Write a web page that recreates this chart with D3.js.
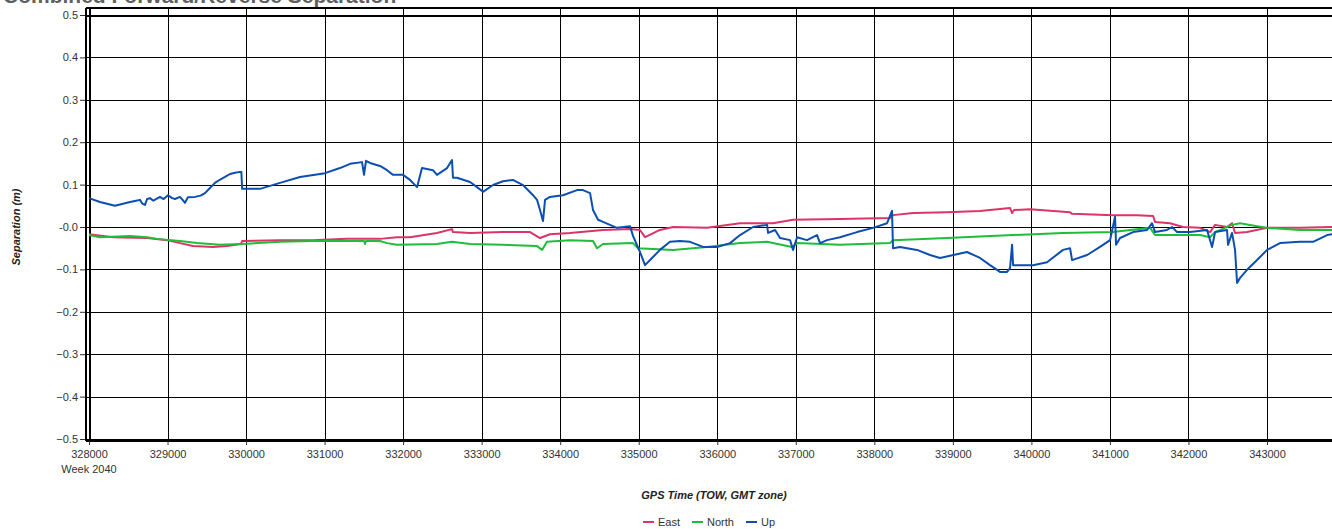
<!DOCTYPE html>
<html><head><meta charset="utf-8">
<script src="https://cdn.jsdelivr.net/npm/d3@7"></script>
<style>
html,body{margin:0;padding:0;background:#fff;overflow:hidden}
text{font-family:"Liberation Sans",Arial,sans-serif}
</style></head>
<body><svg id="c" width="1332" height="529"></svg>
<script>
const title = "Combined Forward/Reverse Separation";
const xTitle = "GPS Time (TOW, GMT zone)";
const yTitle = "Separation (m)";
const weekLabel = "Week 2040";
const xTicks = [328000,329000,330000,331000,332000,333000,334000,335000,336000,337000,338000,339000,340000,341000,342000,343000];
const yTicks = [0.5,0.4,0.3,0.2,0.1,0.0,-0.1,-0.2,-0.3,-0.4,-0.5];
const seriesNames = ["East","North","Up"];
const seriesColors = ["#dc3467","#1fbd3a","#0c4fb0"];

// [TOW, separation m]
const eastData = [[328000,-0.017],[328306,-0.024],[328739,-0.026],[328993,-0.031],[329159,-0.038],[329324,-0.045],[329579,-0.047],[329757,-0.045],[329936,-0.040],[329950,-0.033],[330432,-0.031],[330852,-0.031],[331285,-0.028],[331706,-0.028],[331922,-0.024],[332088,-0.024],[332431,-0.014],[332622,-0.005],[332635,-0.012],[332852,-0.014],[333272,-0.012],[333616,-0.012],[333743,-0.026],[333870,-0.017],[334125,-0.014],[334545,-0.007],[334889,-0.005],[335016,-0.007],[335080,-0.024],[335271,-0.007],[335437,0.000],[335870,-0.002],[336290,0.009],[336710,0.009],[336965,0.017],[337563,0.019],[338200,0.021],[338238,0.028],[338493,0.033],[338926,0.035],[339346,0.038],[339728,0.045],[339754,0.033],[339780,0.040],[339983,0.042],[340492,0.035],[340518,0.031],[341040,0.028],[341346,0.028],[341550,0.026],[341574,0.012],[341765,0.009],[341931,0.000],[342147,-0.002],[342275,-0.012],[342339,0.005],[342491,0.000],[342555,0.009],[342593,-0.014],[342746,-0.012],[343001,-0.002],[343421,-0.002],[343829,0.000]];

const northData = [[328000,-0.019],[328140,-0.024],[328522,-0.021],[328739,-0.024],[328866,-0.028],[329159,-0.033],[329375,-0.038],[329668,-0.042],[329936,-0.040],[330432,-0.035],[330852,-0.033],[331502,-0.033],[331515,-0.040],[331527,-0.033],[331706,-0.033],[331795,-0.038],[331922,-0.042],[332431,-0.040],[332622,-0.035],[332852,-0.040],[333272,-0.042],[333705,-0.045],[333769,-0.054],[333832,-0.035],[334125,-0.031],[334418,-0.033],[334469,-0.050],[334545,-0.040],[334927,-0.038],[334991,-0.050],[335437,-0.054],[335870,-0.047],[336290,-0.038],[336634,-0.035],[336952,-0.047],[337016,-0.038],[337563,-0.042],[338200,-0.038],[338238,-0.031],[338926,-0.026],[339767,-0.019],[340403,-0.014],[341040,-0.012],[341511,-0.002],[341574,-0.019],[342147,-0.019],[342275,-0.024],[342339,-0.012],[342555,0.005],[342657,0.009],[342873,0.002],[343001,-0.002],[343421,-0.007],[343829,-0.007]];

const upData = [[328000,0.068],[328140,0.059],[328331,0.050],[328522,0.059],[328600,0.062],[328649,0.064],[328680,0.055],[328713,0.052],[328740,0.066],[328777,0.068],[328820,0.062],[328904,0.071],[328950,0.066],[329006,0.075],[329060,0.068],[329095,0.066],[329159,0.071],[329200,0.062],[329222,0.057],[329260,0.070],[329350,0.071],[329420,0.074],[329477,0.080],[329540,0.092],[329604,0.104],[329670,0.112],[329732,0.118],[329796,0.125],[329860,0.128],[329923,0.130],[329940,0.130],[329950,0.090],[330178,0.090],[330432,0.104],[330687,0.118],[331005,0.127],[331196,0.139],[331324,0.149],[331477,0.153],[331502,0.123],[331527,0.156],[331578,0.151],[331706,0.144],[331795,0.134],[331871,0.123],[331998,0.123],[332088,0.111],[332177,0.094],[332240,0.139],[332380,0.134],[332431,0.123],[332559,0.139],[332622,0.158],[332635,0.116],[332686,0.116],[332852,0.106],[332941,0.094],[333017,0.083],[333145,0.099],[333272,0.108],[333399,0.111],[333526,0.099],[333654,0.075],[333705,0.064],[333743,0.040],[333781,0.014],[333807,0.064],[333870,0.071],[333960,0.073],[334036,0.075],[334214,0.087],[334290,0.087],[334380,0.080],[334418,0.040],[334482,0.017],[334545,0.012],[334634,0.005],[334724,-0.002],[334889,0.002],[334927,-0.021],[335016,-0.059],[335080,-0.090],[335169,-0.073],[335271,-0.054],[335398,-0.035],[335526,-0.033],[335653,-0.035],[335819,-0.047],[335997,-0.047],[336163,-0.038],[336290,-0.019],[336456,0.000],[336634,0.005],[336647,-0.014],[336736,-0.007],[336799,-0.026],[336927,-0.031],[336965,-0.054],[337016,-0.024],[337143,-0.031],[337270,-0.019],[337309,-0.038],[337398,-0.031],[337563,-0.024],[337780,-0.012],[337984,-0.002],[338162,0.009],[338225,0.038],[338238,-0.050],[338327,-0.047],[338416,-0.050],[338544,-0.054],[338709,-0.066],[338837,-0.073],[338964,-0.068],[339180,-0.059],[339346,-0.073],[339473,-0.090],[339600,-0.106],[339690,-0.106],[339728,-0.097],[339754,-0.042],[339767,-0.090],[339855,-0.090],[340021,-0.090],[340199,-0.083],[340403,-0.054],[340492,-0.050],[340518,-0.078],[340709,-0.066],[340874,-0.047],[341002,-0.031],[341065,0.024],[341078,-0.042],[341129,-0.026],[341294,-0.012],[341473,-0.007],[341536,0.009],[341574,-0.012],[341727,-0.007],[341791,0.000],[341855,-0.012],[342020,-0.012],[342237,-0.007],[342300,-0.047],[342339,-0.012],[342491,-0.007],[342504,-0.042],[342555,-0.014],[342593,-0.054],[342619,-0.132],[342657,-0.120],[342746,-0.101],[342873,-0.078],[343001,-0.054],[343166,-0.038],[343421,-0.035],[343587,-0.035],[343765,-0.019],[343829,-0.017]];

const allData = [eastData, northData, upData];

(function draw() {
const svg = d3.select("#c");
const pL = 86, pT = 8, pB = 440, pR = 1345;
const x = d3.scaleLinear().domain([328000, 343000]).range([89, 1267]);
const y = d3.scaleLinear().domain([-0.5, 0.5]).range([439, 15]);

svg.append("text").attr("x", 3).attr("y", 3).attr("font-size", 21).attr("font-weight", "bold")
  .attr("fill", "#5f5f5f").text(title);

const g = svg.append("g");
g.selectAll(".vg").data(xTicks).join("line")
  .attr("x1", d => Math.round(x(d)) + 0.5).attr("x2", d => Math.round(x(d)) + 0.5)
  .attr("y1", pT).attr("y2", pB).attr("stroke", "#000")
  .attr("stroke-width", (d, i) => i === 0 ? 2 : 1).attr("shape-rendering", "crispEdges");
g.selectAll(".hg").data(yTicks).join("line")
  .attr("x1", pL).attr("x2", pR)
  .attr("y1", d => Math.round(y(d)) + 0.5).attr("y2", d => Math.round(y(d)) + 0.5)
  .attr("stroke", "#000").attr("stroke-width", d => Math.abs(d) === 0.5 ? 2 : 1)
  .attr("shape-rendering", "crispEdges");

g.append("line").attr("x1", pL).attr("x2", pR).attr("y1", pT).attr("y2", pT)
  .attr("stroke", "#000").attr("stroke-width", 2).attr("shape-rendering", "crispEdges");
g.append("line").attr("x1", pL).attr("x2", pR).attr("y1", pB).attr("y2", pB)
  .attr("stroke", "#000").attr("stroke-width", 3).attr("shape-rendering", "crispEdges");
g.append("line").attr("x1", pL).attr("x2", pL).attr("y1", pT).attr("y2", pB + 1)
  .attr("stroke", "#000").attr("stroke-width", 2).attr("shape-rendering", "crispEdges");

const yAxis = d3.axisLeft(y).tickValues(yTicks).tickSize(5).tickPadding(2)
  .tickFormat(d => (d === 0 ? "-0.0" : d3.format(".1f")(d)));
const ya = svg.append("g").attr("transform", `translate(${pL - 1},0)`).call(yAxis);
ya.select(".domain").remove();
ya.selectAll("line").attr("stroke", "#333");
ya.selectAll("text").attr("font-size", 11).attr("fill", "#333")
  .attr("font-family", "'Liberation Sans', Arial, sans-serif");

const xAxis = d3.axisBottom(x).tickValues(xTicks).tickSize(4).tickPadding(5).tickFormat(d3.format("d"));
const xa = svg.append("g").attr("transform", `translate(0,${pB + 1})`).call(xAxis);
xa.select(".domain").remove();
xa.selectAll("line").attr("stroke", "#333");
xa.selectAll("text").attr("font-size", 11).attr("fill", "#333")
  .attr("font-family", "'Liberation Sans', Arial, sans-serif");
svg.append("text").attr("x", x(328000)).attr("y", 473).attr("text-anchor", "middle")
  .attr("font-size", 11).attr("fill", "#333").text(weekLabel);

svg.append("text").attr("x", 714).attr("y", 499).attr("text-anchor", "middle")
  .attr("font-size", 11).attr("font-weight", "bold").attr("font-style", "italic")
  .attr("fill", "#222").text(xTitle);
svg.append("text").attr("transform", "translate(20,227) rotate(-90)").attr("text-anchor", "middle")
  .attr("font-size", 11).attr("font-weight", "bold").attr("font-style", "italic")
  .attr("fill", "#222").text(yTitle);

svg.append("clipPath").attr("id", "pc").append("rect")
  .attr("x", pL + 1).attr("y", pT + 1).attr("width", pR - pL).attr("height", pB - pT - 2);
const line = d3.line().x(d => x(d[0])).y(d => y(d[1]));
svg.append("g").attr("clip-path", "url(#pc)").selectAll("path").data(allData).join("path")
  .attr("d", line).attr("fill", "none")
  .attr("stroke", (d, i) => seriesColors[i]).attr("stroke-width", 2)
  .attr("stroke-linejoin", "round");

const legX = [643, 692, 746];
const lg = svg.append("g");
seriesNames.forEach((n, i) => {
  lg.append("line").attr("x1", legX[i]).attr("x2", legX[i] + 11).attr("y1", 522).attr("y2", 522)
    .attr("stroke", seriesColors[i]).attr("stroke-width", 2);
  lg.append("text").attr("x", legX[i] + 15).attr("y", 526).attr("font-size", 11)
    .attr("fill", "#333").text(n);
});
})();
</script></body></html>
